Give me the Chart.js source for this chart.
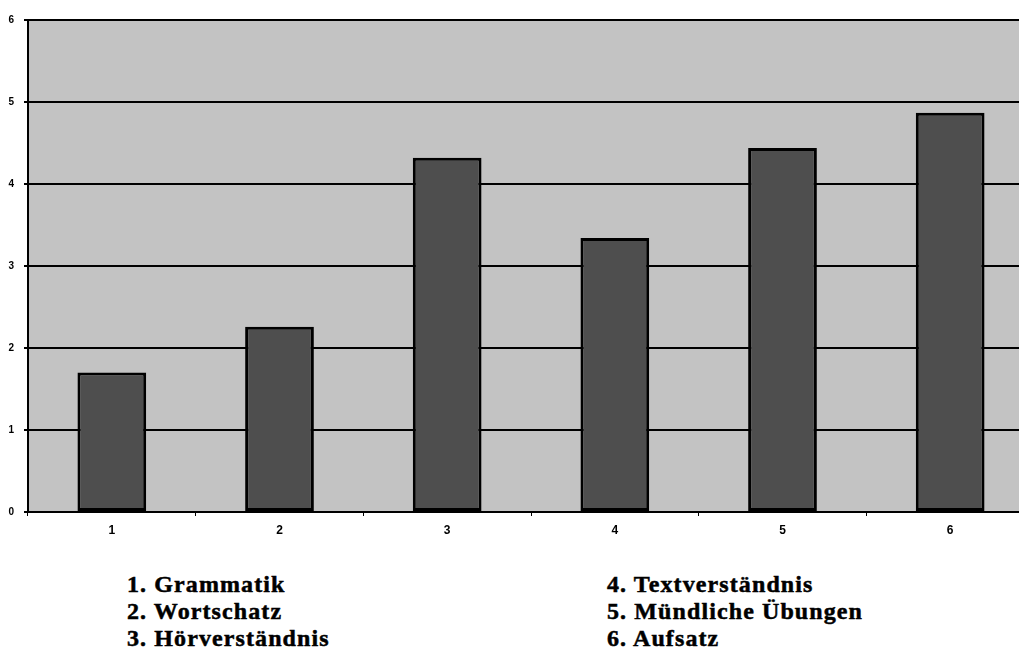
<!DOCTYPE html>
<html>
<head>
<meta charset="utf-8">
<script src="https://cdn.jsdelivr.net/npm/chart.js@4/dist/chart.umd.min.js"></script>
<style>
  html, body { margin: 0; padding: 0; background: #fff; overflow: hidden; }
  #wrap { position: relative; width: 1019px; height: 660px; overflow: hidden; }
  #chartBox { position: absolute; left: 0; top: 0; width: 1036px; height: 545px; }
  .legend { position: absolute; font-family: "Liberation Serif", "Times New Roman", serif;
            font-weight: bold; font-size: 24px; line-height: 27px; letter-spacing: 1.1px;
            -webkit-text-stroke: 0.5px #000; color: #000; }
</style>
</head>
<body>
<div id="wrap">
  <div id="chartBox"><canvas id="c"></canvas></div>
  <div class="legend" id="legLeft" style="left:127px; top:571px;"></div>
  <div class="legend" id="legRight" style="left:607px; top:571px;"></div>
</div>
<script>
// Skill areas (numbered on the x axis, named in the key below)
const categories = ['1', '2', '3', '4', '5', '6'];
const skillNames = ['Grammatik', 'Wortschatz', 'Hörverständnis',
                    'Textverständnis', 'Mündliche Übungen', 'Aufsatz'];
// Average scores per skill area
const scores = [1.70, 2.26, 4.32, 3.34, 4.44, 4.87];
const yTicks = [0, 1, 2, 3, 4, 5, 6];

// Key text: two columns of three entries
const keyLines = skillNames.map((n, i) => (i + 1) + '. ' + n);
document.getElementById('legLeft').innerHTML = keyLines.slice(0, 3).join('<br>');
document.getElementById('legRight').innerHTML = keyLines.slice(3).join('<br>');

// Grey plot-area background
const plotBackground = {
  id: 'plotBackground',
  beforeDraw(chart) {
    const { ctx, chartArea: a } = chart;
    ctx.save();
    ctx.fillStyle = '#c3c3c3';
    ctx.fillRect(a.left, a.top, a.right - a.left, a.bottom - a.top);
    ctx.restore();
  }
};

// Bar fill: lighter left half, darker right half
function barFill(context) {
  const el = context.element;
  const chart = context.chart;
  if (!el || el.x === undefined || !chart.chartArea) return '#4e4e4e';
  const w = el.width || 69;
  const g = chart.ctx.createLinearGradient(el.x - w / 2, 0, el.x + w / 2, 0);
  g.addColorStop(0, '#5a5a5a');
  g.addColorStop(0.5, '#575757');
  g.addColorStop(0.5, '#3f3f3f');
  g.addColorStop(1, '#3f3f3f');
  return g;
}

new Chart(document.getElementById('c'), {
  type: 'bar',
  data: {
    labels: categories,
    datasets: [{
      data: scores,
      backgroundColor: barFill,
      borderColor: '#000',
      borderWidth: 3,
      borderSkipped: false,
      categoryPercentage: 1.0,
      barPercentage: 0.41
    }]
  },
  options: {
    responsive: true,
    maintainAspectRatio: false,
    animation: false,
    layout: { padding: { top: 20, right: 2, left: 0, bottom: 0 } },
    plugins: { legend: { display: false }, tooltip: { enabled: false } },
    scales: {
      x: {
        offset: true,
        grid: { display: true, drawOnChartArea: false, color: '#000', tickLength: 4, offset: true },
        border: { display: true, color: '#000', width: 2 },
        ticks: { color: '#000', font: { family: 'Arial, "Liberation Sans", sans-serif', size: 12, weight: 'bold' }, padding: 7 },
        afterFit(scale) { scale.height = 33; }
      },
      y: {
        min: 0, max: 6,
        afterBuildTicks(scale) { scale.ticks = yTicks.map(v => ({ value: v })); },
        grid: { color: '#000', lineWidth: 2, tickLength: 4 },
        border: { display: true, color: '#000', width: 2 },
        ticks: { color: '#000', font: { family: 'Arial, "Liberation Sans", sans-serif', size: 10, weight: 'bold' }, padding: 10 },
        afterFit(scale) { scale.width = 28; }
      }
    }
  },
  plugins: [plotBackground]
});
</script>
</body>
</html>
